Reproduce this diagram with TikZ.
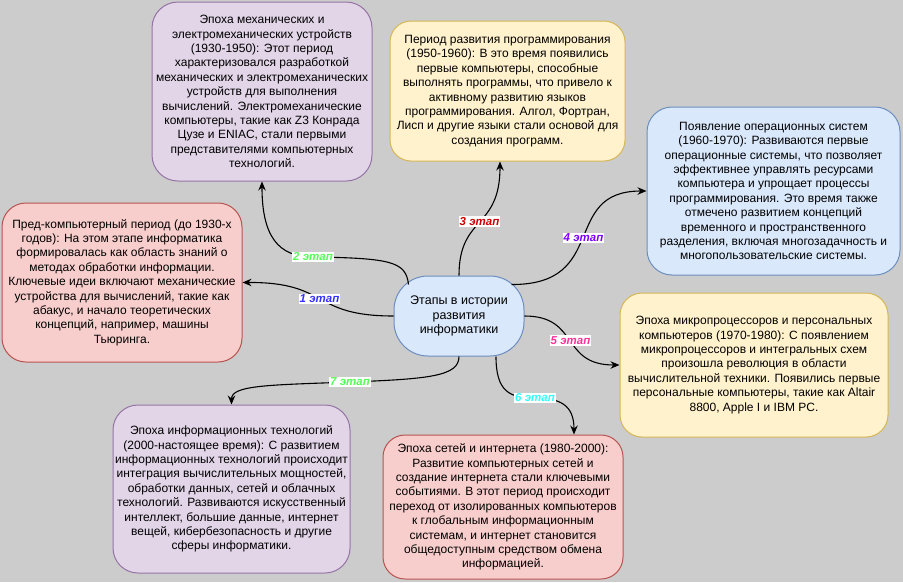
\documentclass[tikz,border=0pt]{standalone}
\usepackage{fontspec}
\setmainfont{Liberation Sans}
\usetikzlibrary{arrows.meta}
\definecolor{bg}{HTML}{CCCCCC}
\definecolor{purF}{HTML}{E1D5E7}\definecolor{purD}{HTML}{9673A6}
\definecolor{yelF}{HTML}{FFF2CC}\definecolor{yelD}{HTML}{D6B656}
\definecolor{bluF}{HTML}{DAE8FC}\definecolor{bluD}{HTML}{6C8EBF}
\definecolor{redF}{HTML}{F8CECC}\definecolor{redD}{HTML}{B85450}
\definecolor{cA}{HTML}{3333FF}
\definecolor{cB}{HTML}{55FF55}
\definecolor{cC}{HTML}{CC0000}
\definecolor{cD}{HTML}{7F00FF}
\definecolor{cE}{HTML}{FF3399}
\definecolor{cF}{HTML}{33FFFF}
\begin{document}
\begin{tikzpicture}[x=1pt,y=-1pt,
  box/.style={draw, line width=1pt, rounded corners=22pt, align=center, inner sep=0pt,
    font=\fontsize{12}{14.4}\selectfont},
  purbox/.style={box, fill=purF, draw=purD},
  yelbox/.style={box, fill=yelF, draw=yelD},
  blubox/.style={box, fill=bluF, draw=bluD},
  redbox/.style={box, fill=redF, draw=redD},
  conn/.style={draw=black, line width=1.1pt, -{Stealth[length=9pt,width=7.5pt,inset=3pt]}},
  lbl/.style={fill=white, inner sep=1pt, font=\fontsize{11.5}{12}\selectfont\bfseries\itshape}]
\fill[bg] (0,0) rectangle (903,582);
\useasboundingbox (0,0) rectangle (903,582);

\node[blubox, rounded corners=34pt, minimum width=130pt, minimum height=80pt,
  font=\fontsize{12.5}{14.6}\selectfont] (c) at (459,316)
  {Этапы в истории\\развития\\информатики};

\node[purbox, rounded corners=26pt, minimum width=220pt, minimum height=179pt] (b1) at (262,91.5)
 {Эпоха механических и\\электромеханических устройств\\(1930-1950): Этот период\\характеризовался разработкой\\механических и электромеханических\\устройств для выполнения\\вычислений. Электромеханические\\компьютеры, такие как Z3 Конрада\\Цузе и ENIAC, стали первыми\\представителями компьютерных\\технологий.};

\node[yelbox, rounded corners=21pt, minimum width=235pt, minimum height=140pt] (b2) at (507.5,91)
 {Период развития программирования\\(1950-1960): В это время появились\\первые компьютеры, способные\\выполнять программы, что привело к\\активному развитию языков\\программирования. Алгол, Фортран,\\Лисп и другие языки стали основой для\\создания программ.};

\node[blubox, rounded corners=25pt, minimum width=253pt, minimum height=168pt] (b3) at (773.5,191)
 {Появление операционных систем\\(1960-1970): Развиваются первые\\операционные системы, что позволяет\\эффективнее управлять ресурсами\\компьютера и упрощает процессы\\программирования. Это время также\\отмечено развитием концепций\\временного и пространственного\\разделения, включая многозадачность и\\многопользовательские системы.};

\node[redbox, rounded corners=24pt, minimum width=240pt, minimum height=159pt] (b4) at (122,282.5)
 {Пред-компьютерный период (до 1930-х\\годов): На этом этапе информатика\\формировалась как область знаний о\\методах обработки информации.\\Ключевые идеи включают механические\\устройства для вычислений, такие как\\абакус, и начало теоретических\\концепций, например, машины\\Тьюринга.};

\node[yelbox, rounded corners=22pt, minimum width=268pt, minimum height=144pt] (b5) at (754,365)
 {Эпоха микропроцессоров и персональных\\компьютеров (1970-1980): С появлением\\микропроцессоров и интегральных схем\\произошла революция в области\\вычислительной техники. Появились первые\\персональные компьютеры, такие как Altair\\8800, Apple I и IBM PC.};

\node[redbox, rounded corners=22pt, minimum width=240pt, minimum height=144pt] (b6) at (503,507)
 {Эпоха сетей и интернета (1980-2000):\\Развитие компьютерных сетей и\\создание интернета стали ключевыми\\событиями. В этот период происходит\\переход от изолированных компьютеров\\к глобальным информационным\\системам, и интернет становится\\общедоступным средством обмена\\информацией.};

\node[purbox, rounded corners=25pt, minimum width=237pt, minimum height=168pt] (b7) at (231.5,489)
 {Эпоха информационных технологий\\(2000-настоящее время): С развитием\\информационных технологий происходит\\интеграция вычислительных мощностей,\\обработки данных, сетей и облачных\\технологий. Развиваются искусственный\\интеллект, большие данные, интернет\\вещей, кибербезопасность и другие\\сферы информатики.};

% edges
\draw[conn] (c.west) .. controls (310,316) and (330,282) .. (b4.east)
  node[lbl, text=cA, pos=0.5] {1 этап};

\draw[conn] ([xshift=15pt,yshift=-9pt]c.north west) .. controls (406,262) and (392,258) .. (313,257)
  node[lbl, text=cB] {2 этап}
  .. controls (278,257) and (262,236) .. (b1.south);

\draw[conn] (c.north) .. controls (459,215) and (500,230) .. ([xshift=-7.5pt]b2.south)
  node[lbl, text=cC, pos=0.5] {3 этап};

\draw[conn] ([xshift=-13pt,yshift=-9pt]c.north east) .. controls (610,285) and (560,191) .. (b3.west)
  node[lbl, text=cD, pos=0.5] {4 этап};

\draw[conn] (c.east) .. controls (580,316) and (560,365) .. (b5.west)
  node[lbl, text=cE, pos=0.5] {5 этап};

\draw[conn] ([xshift=37pt]c.south) .. controls (496,392) and (510,398) .. (535,398)
  node[lbl, text=cF] {6 этап}
  .. controls (560,398) and (574,405) .. ([xshift=71pt]b6.north);

\draw[conn] (c.south) .. controls (459,376) and (430,379) .. (350,382)
  node[lbl, text=cB] {7 этап}
  .. controls (270,385) and (231.5,385) .. (b7.north);
\end{tikzpicture}
\end{document}
